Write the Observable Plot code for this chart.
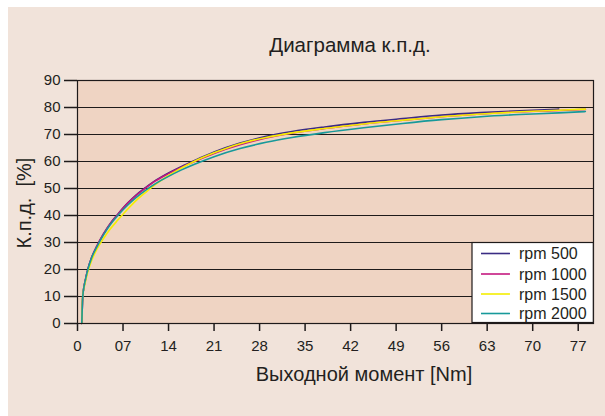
<!DOCTYPE html>
<html>
<head>
<meta charset="utf-8">
<script src="https://cdn.jsdelivr.net/npm/d3@7"></script>
<script src="https://cdn.jsdelivr.net/npm/@observablehq/plot@0.6"></script>
<style>
  html, body { margin: 0; padding: 0; background: #ffffff; }
  svg text { font-family: "Liberation Sans", Arial, sans-serif; }
</style>
</head>
<body>
<div id="chart"></div>
<script>
// ---- data ----
const torque  = [0.66, 0.72, 0.81, 1.0, 1.2, 1.6, 2.2, 3, 4, 5, 6.2, 7.7, 9, 10.5, 12, 14, 16, 18, 21, 25, 29, 33, 38, 44, 50, 56, 62, 68, 74, 78.1];
const rpm500  = [0, 5, 10, 13.6, 16.0, 20.1, 24.6, 28.8, 33.2, 36.9, 40.5, 44.6, 47.6, 50.4, 53.0, 55.8, 58.2, 60.4, 63.5, 66.8, 69.3, 71.1, 72.8, 74.5, 75.9, 77.2, 78.1, 78.8, 79.4, null];
const rpm1000 = [0, 5, 10, 13.6, 16.0, 20.1, 24.6, 28.8, 33.2, 36.9, 40.4, 44.5, 47.4, 50.2, 52.8, 55.5, 57.9, 60.0, 63.0, 66.2, 68.7, 70.5, 72.2, 73.9, 75.3, 76.6, 77.6, 78.4, 78.9, 79.3];
const rpm1500 = [0, 6, 10.5, 13.2, 15.3, 19.2, 23.5, 27.6, 31.5, 34.9, 38.3, 42.3, 45.5, 48.6, 51.5, 54.8, 57.6, 60.1, 63.2, 66.6, 68.9, 70.6, 72.2, 73.9, 75.3, 76.6, 77.6, 78.4, 79.0, 79.4];
const rpm2000 = [0, 5, 10, 13.6, 16.0, 20.1, 24.5, 28.5, 32.8, 36.5, 40.0, 43.8, 46.6, 49.4, 51.8, 54.5, 56.9, 59.0, 61.8, 64.8, 67.1, 68.9, 70.7, 72.5, 74.1, 75.5, 76.6, 77.4, 78.0, 78.5];

const seriesNames = ["rpm 500", "rpm 1000", "rpm 1500", "rpm 2000"];
const seriesValues = [rpm500, rpm1000, rpm1500, rpm2000];
const seriesColors = ["#3a2c84", "#c4187f", "#f4ee00", "#17999a"];

const xTicks = [0, 7, 14, 21, 28, 35, 42, 49, 56, 63, 70, 77];
const yTicks = [0, 10, 20, 30, 40, 50, 60, 70, 80, 90];

const titleText = "Диаграмма к.п.д.";
const xLabel = "Выходной момент [Nm]";
const yLabel = "К.п.д.  [%]";

// build long table
const rows = [];
seriesNames.forEach((name, i) => {
  torque.forEach((t, j) => {
    const v = seriesValues[i][j];
    if (v != null) rows.push({series: name, torque: t, eff: v});
  });
});

const ink = "#231f20";
const fontFamily = '"Liberation Sans", Arial, sans-serif';
const fmtX = d => d === 0 ? "0" : String(d).padStart(2, "0");

const chart = Plot.plot({
  width: 605,
  height: 416,
  marginLeft: 77,
  marginRight: 12,
  marginTop: 80,
  marginBottom: 93,
  style: {background: "transparent", fontFamily, color: ink},
  x: {domain: [0, 79.35], ticks: xTicks, tickFormat: fmtX},
  y: {domain: [0, 90], ticks: yTicks},
  marks: [
    Plot.frame({fill: "#efd4c3", stroke: null}),
    Plot.gridY(yTicks, {stroke: "#1e1a1a", strokeOpacity: 1, strokeWidth: 1.2}),
    ...seriesNames.map((name, i) =>
      Plot.line(rows.filter(r => r.series === name), {
        x: "torque", y: "eff", stroke: seriesColors[i], strokeWidth: 1.6, curve: "monotone-x"
      })
    ),
    Plot.frame({stroke: "#1e1a1a", strokeWidth: 1.2}),
    Plot.axisY({ticks: yTicks, tickSize: 13, tickPadding: 4, label: null, fontSize: 15, stroke: "#1e1a1a", strokeWidth: 1.5}),
    Plot.axisX({ticks: xTicks, tickFormat: fmtX, tickSize: 8, tickPadding: 9, label: null, fontSize: 15, stroke: "#1e1a1a", strokeWidth: 1.5})
  ]
});

const svg = d3.select(chart);
// outer panel background
svg.insert("rect", ":first-child")
  .attr("x", 8).attr("y", 7).attr("width", 597).attr("height", 409)
  .attr("fill", "#f1e3da");

// title
svg.append("text").attr("x", 350).attr("y", 45).attr("dy", "0.35em")
  .attr("text-anchor", "middle").attr("font-size", 20.5).attr("fill", ink)
  .text(titleText);

// x label
svg.append("text").attr("x", 364).attr("y", 374).attr("dy", "0.35em")
  .attr("text-anchor", "middle").attr("font-size", 20).attr("fill", ink)
  .text(xLabel);

// y label
svg.append("text").attr("transform", "translate(24,203) rotate(-90)").attr("dy", "0.35em")
  .attr("text-anchor", "middle").attr("font-size", 20).attr("fill", ink)
  .style("white-space", "pre").attr("xml:space", "preserve")
  .text(yLabel);

// legend
const lg = svg.append("g");
lg.append("rect").attr("x", 472).attr("y", 242.5).attr("width", 121.3).attr("height", 80)
  .attr("fill", "#ffffff").attr("stroke", "#1e1a1a").attr("stroke-width", 1.2);
const rowY = [253.5, 274, 294, 313.5];
seriesNames.forEach((name, i) => {
  lg.append("line").attr("x1", 481).attr("x2", 510).attr("y1", rowY[i]).attr("y2", rowY[i])
    .attr("stroke", seriesColors[i]).attr("stroke-width", 1.6);
  lg.append("text").attr("x", 519).attr("y", rowY[i]).attr("dy", "0.35em")
    .attr("text-anchor", "start").attr("font-size", 16).attr("fill", ink).text(name);
});

document.getElementById("chart").appendChild(chart);
</script>
</body>
</html>
